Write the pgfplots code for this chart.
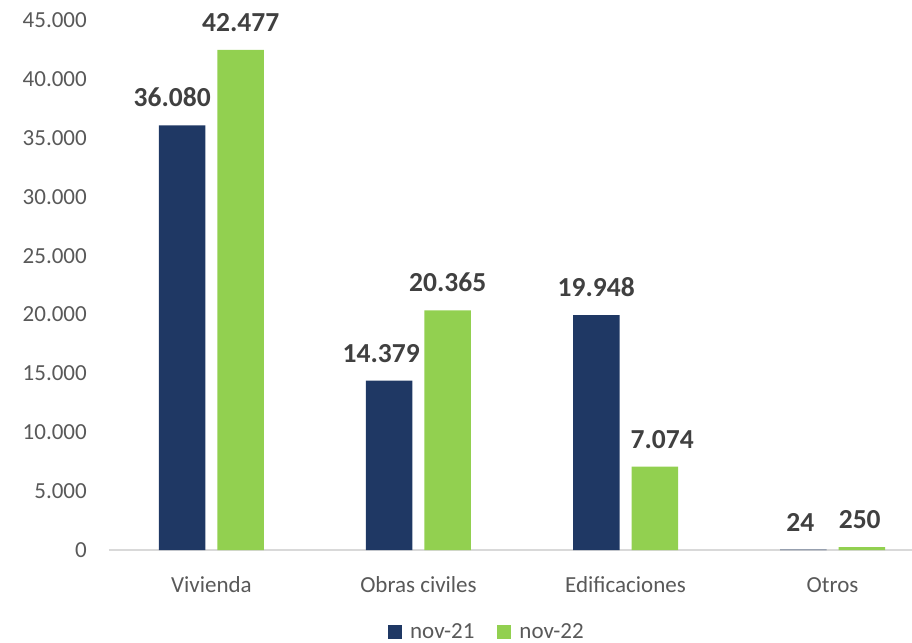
\documentclass[border=0pt]{standalone}
\usepackage{fontspec}
\setmainfont{Carlito}
\usepackage{pgfplots}
\usepackage{pgfplotstable}
\pgfplotsset{compat=1.18}

\definecolor{navy}{HTML}{1F3864}
\definecolor{verde}{HTML}{92D050}
\definecolor{ticktxt}{HTML}{595959}
\definecolor{lbltxt}{HTML}{404040}
\definecolor{axisln}{HTML}{D9D9D9}

% x = category index, dx = label nudge (bp)
\pgfplotstableread{
x y dx
0 36080 -10
1 14379 -8
2 19948 0
3 24 -3
}\novA
\pgfplotstableread{
x y dx
0 42477 0
1 20365 0
2 7074 7.5
3 250 -2
}\novB

\begin{document}
\begin{tikzpicture}
\begin{axis}[
    at={(0,0)}, anchor=south west,
    scale only axis,
    width=803bp, height=529.7bp,
    ymin=0, ymax=45000,
    xmin=-0.495, xmax=3.384,
    ybar=12bp,
    bar width=46.5bp,
    xtick={0,1,2,3},
    xticklabels={Vivienda, Obras civiles, Edificaciones, Otros},
    ytick={0,5000,...,45000},
    scaled y ticks=false,
    axis lines*=left,
    x axis line style={draw=axisln, line width=1.5bp},
    y axis line style={draw=none},
    tick style={draw=none},
    /pgf/number format/.cd, 1000 sep={.}, fixed, precision=0, assume math mode=true,
    /pgfplots/.cd,
    tick label style={font=\fontsize{23bp}{27bp}\selectfont, text=ticktxt, inner sep=0pt},
    yticklabel style={anchor=east, xshift=-22bp},
    xticklabel style={anchor=base, yshift=-38bp},
    nodes near coords,
    visualization depends on={\thisrow{dx} \as \dx},
    every node near coord/.append style={font=\bfseries\fontsize{27.5bp}{32bp}\selectfont,
        text=lbltxt, anchor=base, inner sep=0pt, yshift=18.5bp, xshift=\dx bp},
    legend columns=2,
    legend style={at={(0.4707,-0.155)}, anchor=center, draw=none, fill=none,
        font=\fontsize{23bp}{27bp}\selectfont, text=ticktxt,
        /tikz/every odd column/.append style={column sep=6bp},
        /tikz/every even column/.append style={column sep=21bp},
        inner sep=0pt},
    legend image code/.code={\fill[#1] (0bp,-7bp) rectangle (14bp,7bp);},
]
\addplot[fill=navy, draw=none] table[x=x, y=y] {\novA};
\addplot[fill=verde, draw=none] table[x=x, y=y] {\novB};
\legend{nov-21, nov-22}
\end{axis}
\pgfresetboundingbox
\path (-109bp,-93bp) rectangle (803bp,550bp);
\end{tikzpicture}
\end{document}
